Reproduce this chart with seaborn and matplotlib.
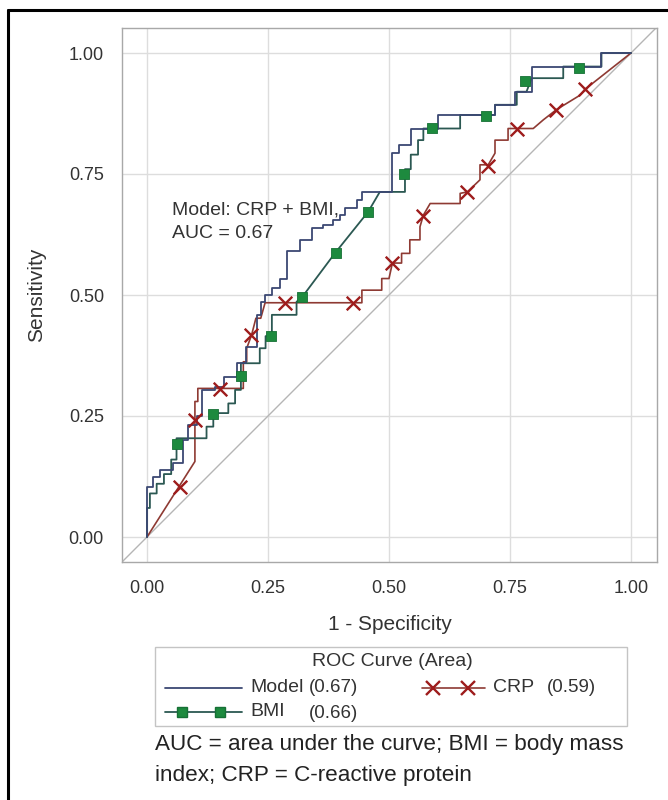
import matplotlib
matplotlib.use("Agg")
import matplotlib.pyplot as plt
import seaborn as sns
import numpy as np
from matplotlib.lines import Line2D
from matplotlib.patches import Rectangle

# ---------------- data ----------------
model_fpr = [0, 0, 0.013, 0.013, 0.027, 0.027, 0.054, 0.054, 0.075, 0.075, 0.085, 0.085,
             0.103, 0.103, 0.113, 0.113, 0.14, 0.14, 0.16, 0.16, 0.185, 0.185, 0.205, 0.205,
             0.227, 0.227, 0.236, 0.236, 0.244, 0.244, 0.258, 0.258, 0.275, 0.275, 0.289, 0.289,
             0.316, 0.316, 0.340, 0.340, 0.364, 0.364, 0.385, 0.385, 0.399, 0.399, 0.409, 0.409,
             0.433, 0.433, 0.444, 0.444, 0.506, 0.506, 0.52, 0.52, 0.545, 0.545, 0.602, 0.602,
             0.719, 0.719, 0.760, 0.760, 0.795, 0.795, 0.939, 0.939, 1.0]
model_tpr = [0, 0.104, 0.104, 0.125, 0.125, 0.139, 0.139, 0.152, 0.152, 0.200, 0.200, 0.231,
             0.231, 0.249, 0.249, 0.304, 0.304, 0.310, 0.310, 0.330, 0.330, 0.359, 0.359, 0.393,
             0.393, 0.459, 0.459, 0.486, 0.486, 0.500, 0.500, 0.514, 0.514, 0.534, 0.534, 0.590,
             0.590, 0.614, 0.614, 0.638, 0.638, 0.645, 0.645, 0.655, 0.655, 0.665, 0.665, 0.679,
             0.679, 0.696, 0.696, 0.713, 0.713, 0.793, 0.793, 0.810, 0.810, 0.844, 0.844, 0.872,
             0.872, 0.893, 0.893, 0.920, 0.920, 0.972, 0.972, 1.0, 1.0]

bmi_fpr = [0, 0, 0.006, 0.006, 0.02, 0.02, 0.035, 0.035, 0.05, 0.05, 0.061, 0.061, 0.123, 0.123,
           0.137, 0.137, 0.168, 0.168, 0.182, 0.182, 0.194, 0.194, 0.233, 0.233, 0.245, 0.245,
           0.258, 0.258, 0.309, 0.309, 0.320, 0.388, 0.457, 0.481, 0.533, 0.533, 0.545, 0.545,
           0.56, 0.56, 0.571, 0.571, 0.647, 0.647, 0.719, 0.719, 0.764, 0.764, 0.784, 0.795,
           0.860, 0.860, 0.939, 0.939, 1.0]
bmi_tpr = [0, 0.06, 0.06, 0.09, 0.09, 0.11, 0.11, 0.13, 0.13, 0.16, 0.16, 0.204, 0.204, 0.228,
           0.228, 0.256, 0.256, 0.276, 0.276, 0.304, 0.304, 0.359, 0.359, 0.390, 0.390, 0.415,
           0.415, 0.459, 0.459, 0.486, 0.495, 0.586, 0.672, 0.713, 0.713, 0.760, 0.760, 0.790,
           0.790, 0.820, 0.820, 0.844, 0.844, 0.872, 0.872, 0.893, 0.893, 0.920, 0.920, 0.948,
           0.948, 0.972, 0.972, 1.0, 1.0]
bmi_mark_fpr = [0.061, 0.137, 0.195, 0.256, 0.320, 0.390, 0.457, 0.530, 0.588, 0.700, 0.781, 0.893]
bmi_mark_tpr = [0.192, 0.254, 0.332, 0.415, 0.495, 0.586, 0.672, 0.751, 0.846, 0.870, 0.943, 0.968]

crp_fpr = [0, 0.099, 0.099, 0.105, 0.105, 0.199, 0.199, 0.206, 0.206, 0.216, 0.225, 0.235,
           0.244, 0.444, 0.444, 0.485, 0.485, 0.50, 0.507, 0.526, 0.526, 0.543, 0.543, 0.564,
           0.564, 0.571, 0.585, 0.647, 0.647, 0.662, 0.688, 0.688, 0.705, 0.719, 0.719, 0.746,
           0.746, 0.798, 0.819, 0.846, 0.895, 0.905, 1.0]
crp_tpr = [0, 0.156, 0.280, 0.280, 0.307, 0.307, 0.362, 0.362, 0.390, 0.417, 0.452, 0.452,
           0.484, 0.484, 0.510, 0.510, 0.534, 0.534, 0.566, 0.566, 0.586, 0.586, 0.614, 0.614,
           0.641, 0.665, 0.689, 0.689, 0.710, 0.713, 0.738, 0.769, 0.769, 0.793, 0.820, 0.820,
           0.844, 0.844, 0.862, 0.883, 0.913, 0.925, 1.0]
crp_mark_fpr = [0.068, 0.099, 0.151, 0.215, 0.285, 0.426, 0.507, 0.570, 0.662, 0.705, 0.765, 0.846, 0.905]
crp_mark_tpr = [0.104, 0.242, 0.305, 0.417, 0.484, 0.484, 0.566, 0.664, 0.713, 0.767, 0.842, 0.883, 0.925]

ticks = [0.0, 0.25, 0.5, 0.75, 1.0]
tick_labels = ["0.00", "0.25", "0.50", "0.75", "1.00"]
legend_title = "ROC Curve (Area)"
legend_names = ["Model", "BMI", "CRP"]
legend_auc = ["(0.67)", "(0.66)", "(0.59)"]
annotation = ["Model: CRP + BMI,", "AUC = 0.67"]
caption = ["AUC = area under the curve; BMI = body mass",
           "index; CRP = C-reactive protein"]

# ---------------- style ----------------
sns.set_theme(style="whitegrid")
plt.rcParams["font.family"] = ["Liberation Sans", "DejaVu Sans"]

C_MODEL = "#3b4873"
C_BMI_LINE = "#2b5852"
C_BMI_MARK = "#1d8a3e"
C_CRP_LINE = "#8e3a33"
C_CRP_MARK = "#9e1c1c"
C_TEXT = "#333333"

W, H = 668, 800
fig = plt.figure(figsize=(W / 100, H / 100), dpi=100)
fig.patch.set_facecolor("white")

ax_l, ax_r, ax_t, ax_b = 122, 657, 28, 562
ax = fig.add_axes([ax_l / W, 1 - ax_b / H, (ax_r - ax_l) / W, (ax_b - ax_t) / H])
ax.set_facecolor("white")

x0, y0, scale = 147, 537, 484.0
ax.set_xlim((ax_l - x0) / scale, (ax_r - x0) / scale)
ax.set_ylim((y0 - ax_b) / scale, (y0 - ax_t) / scale)

ax.axline((0, 0), (1, 1), color="#b5b5b5", lw=1.0, zorder=1)

sns.lineplot(x=crp_fpr, y=crp_tpr, sort=False, estimator=None, color=C_CRP_LINE,
             lw=1.2, ax=ax, zorder=3)
sns.lineplot(x=bmi_fpr, y=bmi_tpr, sort=False, estimator=None, color=C_BMI_LINE,
             lw=1.3, ax=ax, zorder=4)
sns.lineplot(x=model_fpr, y=model_tpr, sort=False, estimator=None, color=C_MODEL,
             lw=1.3, ax=ax, zorder=5)
sns.scatterplot(x=bmi_mark_fpr, y=bmi_mark_tpr, marker="s", s=42, color=C_BMI_MARK,
                edgecolor="#167035", linewidth=0.6, ax=ax, zorder=6)
sns.scatterplot(x=crp_mark_fpr, y=crp_mark_tpr, marker="x", s=95, color=C_CRP_MARK,
                linewidth=1.7, ax=ax, zorder=6)

ax.set_xticks(ticks)
ax.set_xticklabels(tick_labels)
ax.set_yticks(ticks)
ax.set_yticklabels(tick_labels)
ax.grid(True, color="#dddddd", lw=1.0)
ax.tick_params(axis="both", direction="out", length=7, width=1, color="#999999",
               labelsize=13, labelcolor=C_TEXT, pad=6)
for sp in ax.spines.values():
    sp.set_color("#a8a8a8")
    sp.set_linewidth(1.0)

ax.set_xlabel("1 - Specificity", fontsize=15, color=C_TEXT)
ax.xaxis.label.set_verticalalignment("center")
ax.xaxis.set_label_coords(0.5, (ax_b - 624) / (ax_b - ax_t))
ax.set_ylabel("Sensitivity", fontsize=15, color=C_TEXT)
ax.yaxis.label.set_verticalalignment("center")
ax.yaxis.set_label_coords((37 - ax_l) / (ax_r - ax_l), (ax_b - 295) / (ax_b - ax_t))

ax.text((172 - x0) / scale, (y0 - 210) / scale, annotation[0], fontsize=14,
        color=C_TEXT, va="center", ha="left", zorder=7)
ax.text((172 - x0) / scale, (y0 - 233) / scale, annotation[1], fontsize=14,
        color=C_TEXT, va="center", ha="left", zorder=7)

# ---------------- legend (drawn in figure pixel space) ----------------
def fx(px):
    return px / W

def fy(py):
    return 1 - py / H

fig.patches.append(Rectangle((fx(155), fy(726)), fx(627) - fx(155), fy(647) - fy(726),
                             transform=fig.transFigure, fill=False, edgecolor="#c4c4c4",
                             lw=1.0))
fig.text(fx(392), fy(662), legend_title, fontsize=14, color=C_TEXT, ha="center", va="center")

fig.lines.append(Line2D([fx(165), fx(242)], [fy(688), fy(688)], transform=fig.transFigure,
                        color=C_MODEL, lw=1.3))
fig.lines.append(Line2D([fx(165), fx(242)], [fy(712), fy(712)], transform=fig.transFigure,
                        color=C_BMI_LINE, lw=1.3))
fig.lines.append(Line2D([fx(182), fx(220)], [fy(712), fy(712)], transform=fig.transFigure,
                        color=C_BMI_MARK, lw=0, marker="s", markersize=6.5,
                        markeredgecolor="#167035"))
fig.lines.append(Line2D([fx(422), fx(485)], [fy(688), fy(688)], transform=fig.transFigure,
                        color=C_CRP_LINE, lw=1.2))
fig.lines.append(Line2D([fx(433), fx(468)], [fy(688), fy(688)], transform=fig.transFigure,
                        color=C_CRP_MARK, lw=0, marker="x", markersize=9.5,
                        markeredgewidth=1.7))

fig.text(fx(250), fy(688), legend_names[0], fontsize=14, color=C_TEXT, va="center")
fig.text(fx(309), fy(688), legend_auc[0], fontsize=13.5, color=C_TEXT, va="center")
fig.text(fx(250), fy(712), legend_names[1], fontsize=14, color=C_TEXT, va="center")
fig.text(fx(309), fy(713), legend_auc[1], fontsize=13.5, color=C_TEXT, va="center")
fig.text(fx(493), fy(688), legend_names[2], fontsize=14, color=C_TEXT, va="center")
fig.text(fx(547), fy(688), legend_auc[2], fontsize=13.5, color=C_TEXT, va="center")

fig.text(fx(155), fy(750), caption[0], fontsize=16.2, color="#222222", va="baseline")
fig.text(fx(155), fy(781), caption[1], fontsize=16.2, color="#222222", va="baseline")

# figure border (left and top edges visible)
fig.lines.append(Line2D([fx(8), fx(8)], [fy(10), fy(800)], transform=fig.transFigure,
                        color="black", lw=2.2))
fig.lines.append(Line2D([fx(8), fx(668)], [fy(10), fy(10)], transform=fig.transFigure,
                        color="black", lw=2.2))

fig.savefig("out.png", dpi=100, facecolor="white")
